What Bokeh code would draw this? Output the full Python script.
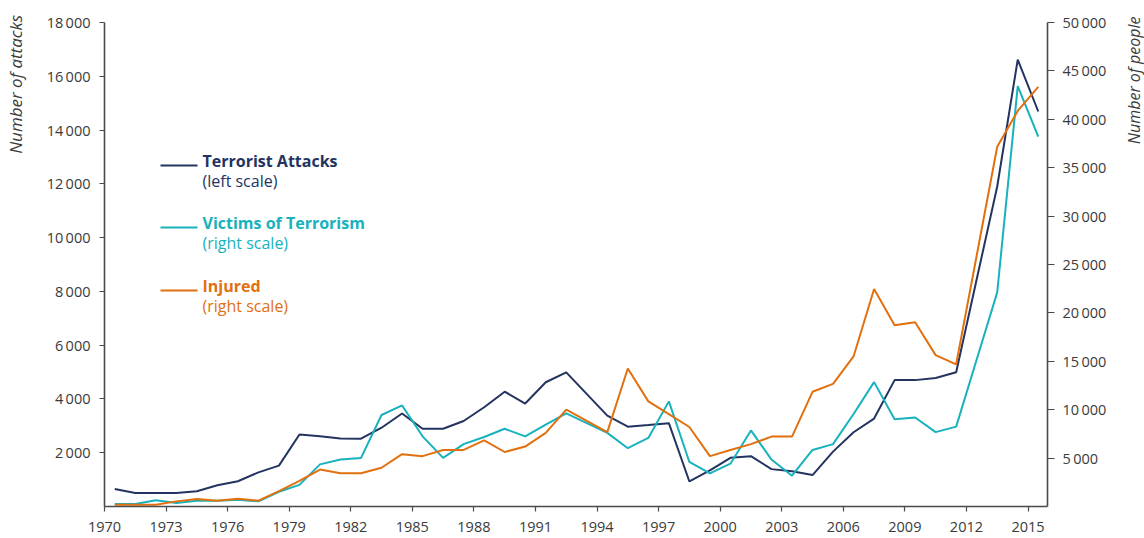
from math import pi
from bokeh.plotting import figure
from bokeh.layouts import row
from bokeh.models import (Range1d, LinearAxis, FixedTicker, CustomJSTickFormatter,
                          Label, BoxAnnotation)
from bokeh.embed import file_html
from bokeh.resources import INLINE

# ---------------- data ----------------
years = [1970, 1971, 1972, 1973, 1974, 1975, 1976, 1977, 1978, 1979,
         1980, 1981, 1982, 1983, 1984, 1985, 1986, 1987, 1988, 1989,
         1990, 1991, 1992, 1994, 1995, 1996, 1997, 1998, 1999,
         2000, 2001, 2002, 2003, 2004, 2005, 2006, 2007, 2008, 2009,
         2010, 2011, 2012, 2013, 2014, 2015]

attacks = [650, 500, 500, 500, 570, 790, 940, 1270, 1520, 2680,
           2610, 2530, 2520, 2930, 3460, 2890, 2890, 3180, 3690, 4270,
           3830, 4620, 4990, 3380, 2970, 3030, 3100, 930, 1340,
           1810, 1870, 1390, 1310, 1170, 2040, 2760, 3270, 4700, 4700,
           4780, 4990, 8450, 11900, 16620, 14690]

victims = [250, 250, 640, 350, 600, 600, 700, 530, 1520, 2230,
           4350, 4850, 5020, 9450, 10440, 7250, 5020, 6440, 7180, 8030,
           7250, 8460, 9620, 7610, 6020, 7080, 10860, 4600, 3430,
           4420, 7860, 4850, 3180, 5840, 6440, 9550, 12850, 9020, 9200,
           7680, 8250, 15190, 22120, 43420, 38220]

injured = [180, 180, 180, 530, 780, 600, 810, 600, 1590, 2650,
           3820, 3430, 3430, 4000, 5410, 5200, 5840, 5840, 6830, 5630,
           6190, 7610, 10010, 7680, 14260, 10860, 9550, 8210, 5200,
           5840, 6440, 7220, 7220, 11850, 12670, 15500, 22470, 18720, 19040,
           15640, 14690, 25930, 37160, 40870, 43350]

x_ticks = [1970, 1973, 1976, 1979, 1982, 1985, 1988, 1991, 1994, 1997,
           2000, 2003, 2006, 2009, 2012, 2015]
left_ticks = [2000, 4000, 6000, 8000, 10000, 12000, 14000, 16000, 18000]
right_ticks = [5000, 10000, 15000, 20000, 25000, 30000, 35000, 40000, 45000, 50000]
left_max = 18000
right_max = 50000

left_title = "Number of attacks"
right_title = "Number of people"

# ---------------- style ----------------
NAVY = "#22345f"
TEAL = "#17b2bd"
ORANGE = "#e2700f"
TXT = "#3a3a3a"
AXIS = "#4a4a4a"
FONT = "Open Sans"
PAD = "\u00a0" * 80   # pushes the rotated left axis title toward the top of the axis

FRAME_H = 491          # frame from y=15 to y=506; axis value max sits at y=22
HEAD = 491.0 / 484.0   # small headroom above the top tick so the titles fit

xpos = [y + 0.5 for y in years]

p = figure(width=1122, height=538, output_backend="svg", toolbar_location=None,
           x_range=Range1d(1970, 2015.95), y_range=Range1d(0, left_max * HEAD),
           min_border_left=100, min_border_right=75, min_border_top=15,
           min_border_bottom=32)
p.outline_line_color = None
p.grid.grid_line_color = None
p.background_fill_color = "white"
p.border_fill_color = "white"

p.extra_y_ranges = {"people": Range1d(0, right_max * HEAD)}

fmt = CustomJSTickFormatter(code="""
    var s = Math.round(tick).toString();
    if (s.length > 3) { s = s.slice(0, s.length - 3) + '\u2009' + s.slice(s.length - 3); }
    return s;
""")

def style_axis(ax):
    ax.axis_line_color = AXIS
    ax.axis_line_width = 1.6
    ax.major_tick_line_color = AXIS
    ax.major_tick_line_width = 1.2
    ax.major_tick_in = 0
    ax.major_tick_out = 5
    ax.minor_tick_line_color = None
    ax.major_label_text_font = FONT
    ax.major_label_text_font_size = "14.5px"
    ax.major_label_text_color = TXT
    ax.axis_label_text_font = FONT
    ax.axis_label_text_font_style = "italic"
    ax.axis_label_text_font_size = "17px"
    ax.axis_label_text_color = TXT

xa = p.xaxis[0]
style_axis(xa)
xa.ticker = FixedTicker(ticks=x_ticks)
xa.major_label_standoff = 10

ya = p.yaxis[0]
style_axis(ya)
ya.ticker = FixedTicker(ticks=left_ticks)
ya.formatter = fmt
ya.bounds = (0, left_max)
ya.major_label_standoff = 9
ya.axis_label = PAD + left_title
ya.axis_label_standoff = 17

ra = LinearAxis(y_range_name="people")
style_axis(ra)
ra.ticker = FixedTicker(ticks=right_ticks)
ra.formatter = fmt
ra.bounds = (0, right_max)
ra.major_tick_out = 7
ra.major_label_standoff = 8
p.add_layout(ra, "right")

# ---------------- lines ----------------
p.line(xpos, attacks, line_color=NAVY, line_width=2)
p.line(xpos, victims, line_color=TEAL, line_width=2, y_range_name="people")
p.line(xpos, injured, line_color=ORANGE, line_width=2, y_range_name="people")

# ---------------- legend (screen units relative to the plot frame) ----------------
legend_items = [
    ("Terrorist Attacks", "(left scale)", NAVY, 341),
    ("Victims of Terrorism", "(right scale)", TEAL, 279),
    ("Injured", "(right scale)", ORANGE, 216),
]
for title, sub, col, ly in legend_items:
    p.add_layout(BoxAnnotation(left=56, right=93, bottom=ly - 1, top=ly + 1,
                               left_units="screen", right_units="screen",
                               bottom_units="screen", top_units="screen",
                               fill_color=col, fill_alpha=1, line_color=None))
    p.add_layout(Label(x=98, y=ly + 5, x_units="screen", y_units="screen",
                       text=title, text_align="left", text_baseline="middle",
                       text_font=FONT, text_font_style="bold",
                       text_font_size="16px", text_color=col))
    p.add_layout(Label(x=98, y=ly - 15, x_units="screen", y_units="screen",
                       text=sub, text_align="left", text_baseline="middle",
                       text_font=FONT, text_font_size="16px", text_color=col))

# ---------------- right-hand axis title in a narrow side panel ----------------
q = figure(width=22, height=538, output_backend="svg", toolbar_location=None,
           x_range=Range1d(0, 1), y_range=Range1d(0, 1),
           min_border=0, min_border_left=0, min_border_right=0,
           min_border_top=15, min_border_bottom=32)
q.axis.visible = False
q.grid.grid_line_color = None
q.outline_line_color = None
q.background_fill_color = "white"
q.border_fill_color = "white"
q.add_layout(Label(x=11, y=FRAME_H - 1, x_units="screen", y_units="screen",
                   text=right_title, angle=pi / 2, text_align="right",
                   text_baseline="middle", text_font=FONT, text_font_style="italic",
                   text_font_size="16px", text_color=TXT))

layout = row(p, q)
open("out.html", "w").write(file_html(layout, INLINE))
